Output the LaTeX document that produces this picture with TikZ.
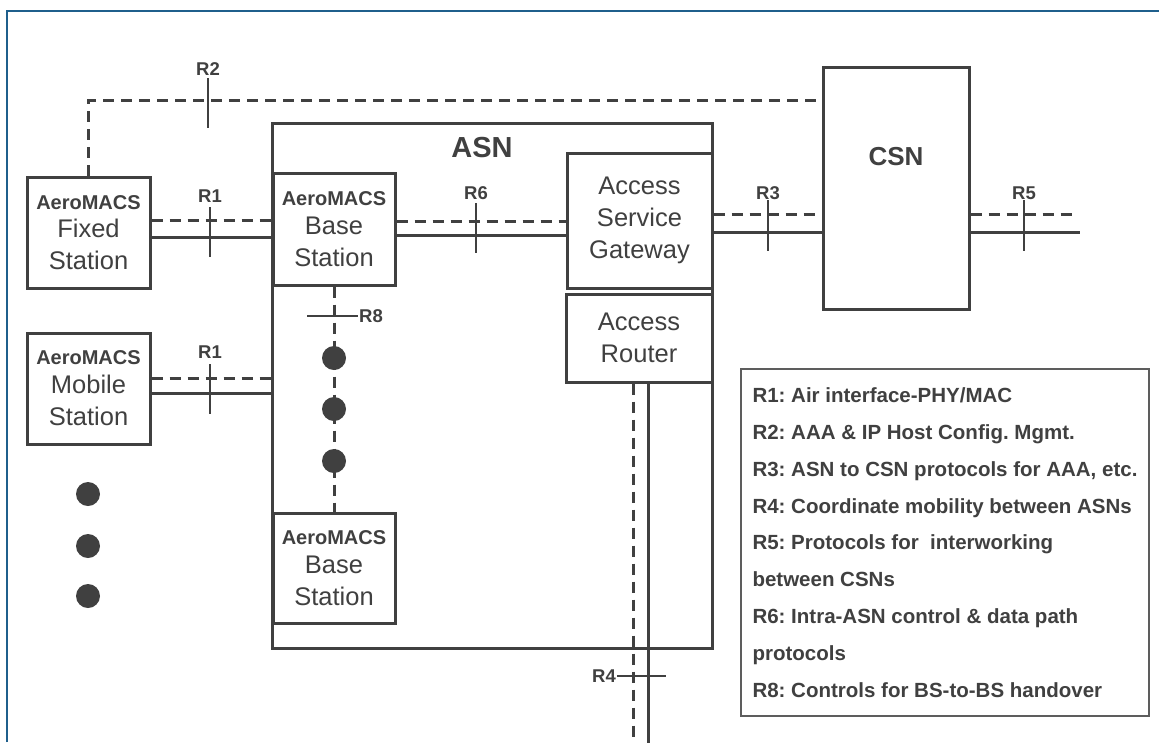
\documentclass[tikz,border=0pt]{standalone}
\usepackage{fontspec}
\setmainfont{Liberation Sans}
\usepackage{xcolor}
\usepackage{tikz}
\frenchspacing

\definecolor{ink}{HTML}{404040}
\definecolor{edge}{HTML}{1F5F8C}
\newcommand{\aerotag}{{\fontsize{20}{24}\selectfont\bfseries AeroMACS}}

\begin{document}
\begin{tikzpicture}[x=1pt, y=-1pt,
    box/.style={rectangle, draw=ink, line width=3pt, fill=white, inner sep=0pt, align=center, text=ink, font=\fontsize{25.5}{32}\selectfont},
    title/.style={text=ink, font=\fontsize{29}{32}\selectfont\bfseries},
    ref/.style={text=ink, inner sep=1pt, font=\fontsize{18.5}{20}\selectfont\bfseries},
    ctl/.style={draw=ink, line width=3pt, dash pattern=on 11pt off 7pt},
    dat/.style={draw=ink, line width=3pt},
    tick/.style={draw=ink, line width=2.5pt},
    legendbox/.style={rectangle, draw=ink!85, line width=2pt, fill=white, align=left, text=ink, font=\fontsize{20.5}{36.8}\selectfont\bfseries}
]
\useasboundingbox (0,0) rectangle (1159,742);
\draw[edge, line width=2pt] (7,742) -- (7,11) -- (1159,11);

% Networks
\node[box, minimum width=440pt, minimum height=525pt] (asn) at (492,385.5) {};
\node[title] (asntitle) at (482,148) {ASN};
\node[box, minimum width=146pt, minimum height=242pt] (csn) at (896,188) {};
\node[title, font=\fontsize{26}{30}\selectfont\bfseries] (csntitle) at (896,157) {CSN};

% Stations
\node[box, minimum width=123pt, minimum height=111pt] (fixed) at (88.5,232.5) {\aerotag\\[-4pt]Fixed\\Station};
\node[box, minimum width=123pt, minimum height=111pt] (mobile) at (88.5,388.5) {\aerotag\\[-3pt]Mobile\\Station};
\node[box, minimum width=122pt, minimum height=112pt] (bs) at (334,229) {\aerotag\\[-3pt]Base\\Station};
\node[box, minimum width=122pt, minimum height=110pt] (bsb) at (334,568) {\aerotag\\[-3pt]Base\\Station};
\node[box, minimum width=145pt, minimum height=135pt] (gw) at (639.5,220.5) {Access\\Service\\Gateway};
\node[box, minimum width=146pt, minimum height=88pt] (router) at (639,338) {Access\\Router};

% Free ends
\coordinate (r5a) at (1073,214);
\coordinate (r5b) at (1080,232);
\coordinate (r4a) at (633,745);
\coordinate (r4b) at (648,745);

% R2
\draw[ctl] (fixed.north) -- (fixed.north |- 0,100) -- (csn.west |- 0,100);
\draw[tick] (208,78) -- (208,128);
\node[ref] (lr2) at (208,69) {R2};

% R1
\draw[ctl] (fixed.east |- 0,220) -- (asn.west |- 0,220);
\draw[dat] (fixed.east |- 0,237) -- (asn.west |- 0,237);
\draw[tick] (210,207) -- (210,257);
\node[ref] (lr1a) at (210,196) {R1};
\draw[ctl] (mobile.east |- 0,378) -- (asn.west |- 0,378);
\draw[dat] (mobile.east |- 0,393) -- (asn.west |- 0,393);
\draw[tick] (210,364) -- (210,414);
\node[ref] (lr1b) at (210,352) {R1};

% R6
\draw[ctl] (bs.east |- 0,221) -- (gw.west |- 0,221);
\draw[dat] (bs.east |- 0,235) -- (gw.west |- 0,235);
\draw[tick] (476,203) -- (476,253);
\node[ref] (lr6) at (476,193) {R6};

% R3
\draw[ctl] (asn.east |- 0,214) -- (csn.west |- 0,214);
\draw[dat] (asn.east |- 0,232) -- (csn.west |- 0,232);
\draw[tick] (768,200) -- (768,251);
\node[ref] (lr3) at (768,193) {R3};

% R5
\draw[ctl] (csn.east |- r5a) -- (r5a);
\draw[dat] (csn.east |- r5b) -- (r5b);
\draw[tick] (1024,200) -- (1024,251);
\node[ref] (lr5) at (1024,193) {R5};

% R8
\draw[ctl] (bs.south) -- (bsb.north);
\draw[tick] (307,316) -- (358,316);
\node[ref, anchor=west] (lr8) at (358,316) {R8};
\foreach \y in {358,409,461} \fill[ink] (334,\y) circle (12pt);

% R4
\draw[ctl] (router.south -| r4a) -- (r4a);
\draw[dat] (router.south -| r4b) -- (r4b);
\draw[tick] (617,676) -- (666,676);
\node[ref, anchor=east] (lr4) at (617,676) {R4};

% more mobile stations
\foreach \y in {494,546,596} \fill[ink] (88,\y) circle (12pt);

% Legend
\node[legendbox, minimum width=408pt, minimum height=347pt] (legend) at (945,542.5) {R1: Air interface-PHY/MAC\\
R2: AAA \& IP Host Config. Mgmt.\\
R3: ASN to CSN protocols for AAA, etc.\\
R4: Coordinate mobility between ASNs\\
R5: Protocols for\ \ interworking\\
between CSNs\\
R6: Intra-ASN control \& data path\\
protocols\\
R8: Controls for BS-to-BS handover};
\end{tikzpicture}
\end{document}
